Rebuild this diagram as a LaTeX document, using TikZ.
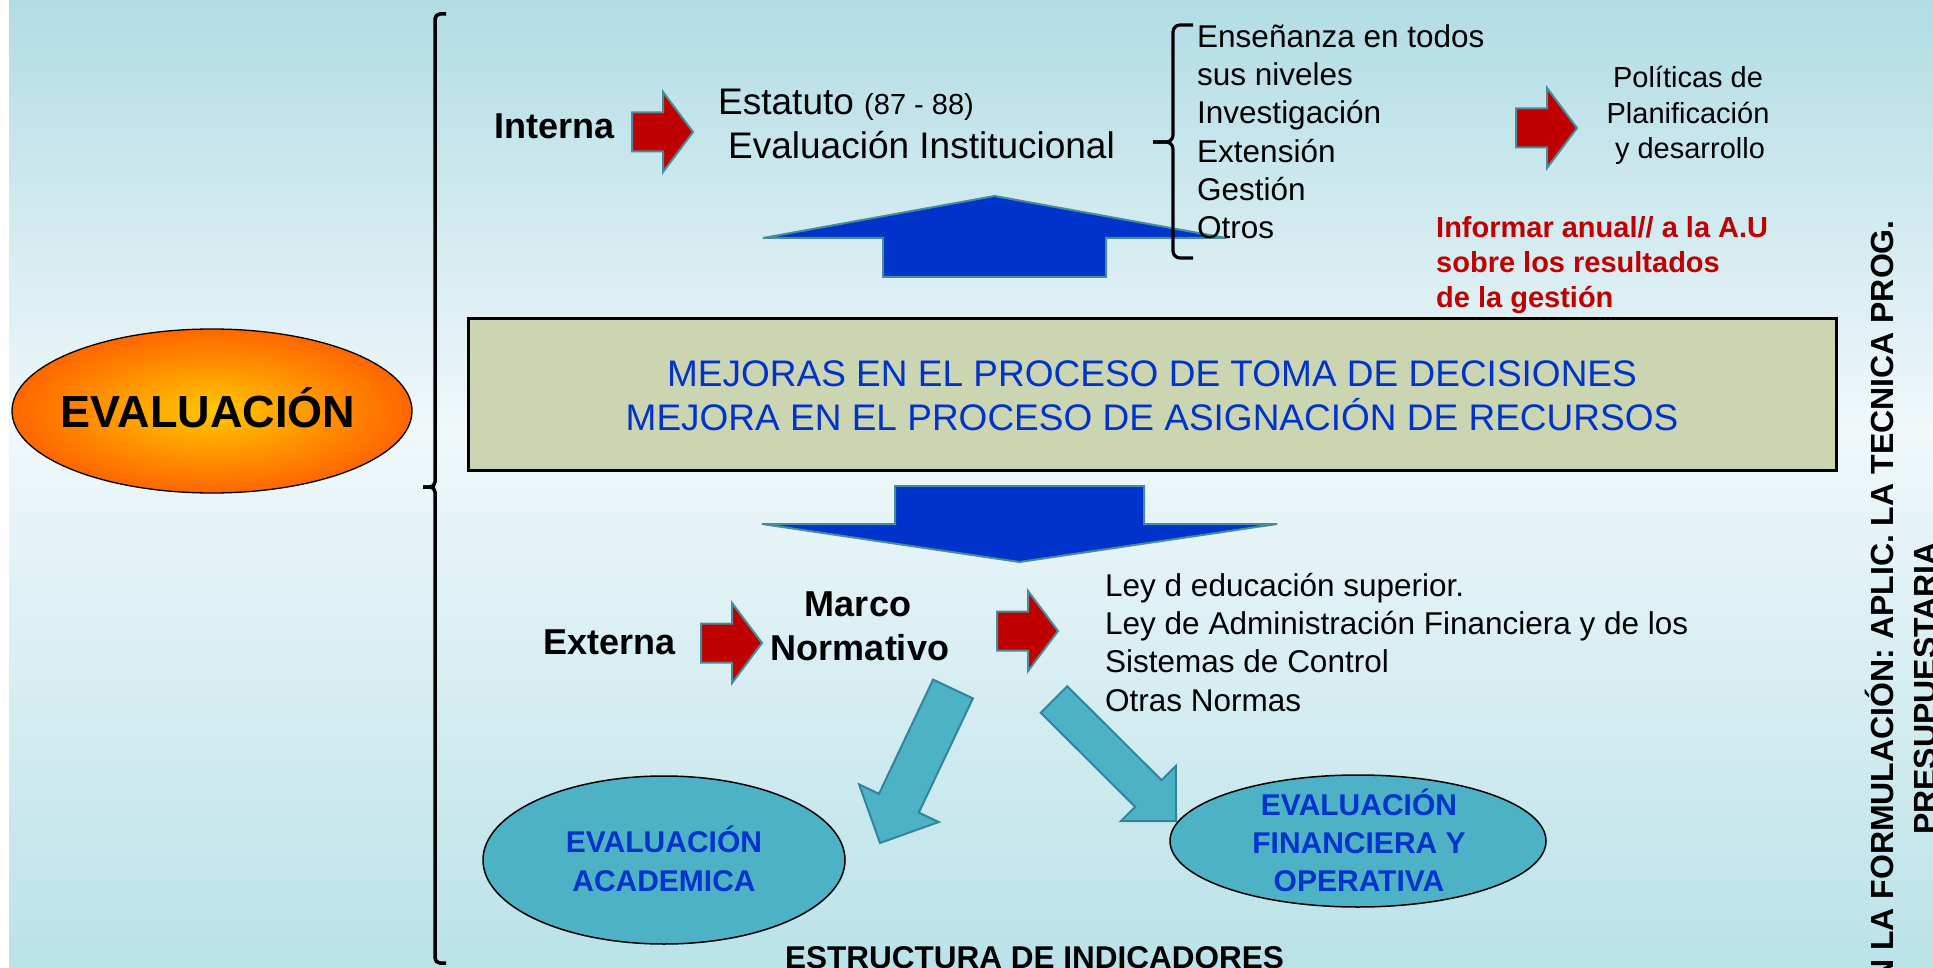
\documentclass[tikz,border=0pt]{standalone}
\usepackage{fontspec}
\setmainfont{Liberation Sans}
\definecolor{bgtop}{RGB}{178,220,229}
\definecolor{bgmid}{RGB}{240,248,250}
\definecolor{bgbot}{RGB}{186,226,233}
\definecolor{redf}{RGB}{192,0,0}
\definecolor{arrline}{RGB}{70,140,155}
\definecolor{bluef}{RGB}{0,51,204}
\definecolor{tealf}{RGB}{78,178,199}
\definecolor{tealline}{RGB}{49,133,155}
\definecolor{rectf}{RGB}{204,213,177}
\definecolor{txtblue}{RGB}{0,51,204}
\definecolor{orin}{RGB}{255,200,0}
\definecolor{orout}{RGB}{255,102,0}
\newcommand{\redarr}[2]{\draw[redarr] (#1,#2-19.5) -- ++(31,0) -- ++(0,-20.5) -- ++(30,40) -- ++(-30,40) -- ++(0,-20.5) -- ++(-31,0) -- cycle;}
\tikzset{
  redarr/.style={fill=redf, draw=arrline, line width=2pt, line join=miter},
  bluearr/.style={fill=bluef, draw=arrline, line width=2pt},
  tealarr/.style={fill=tealf, draw=tealline, line width=2pt},
  bracketline/.style={line width=3.5pt, rounded corners=5pt},
  txt/.style={inner sep=0pt, anchor=base west, font=\fontsize{31.5}{38}\selectfont},
  boldtxt/.style={inner sep=0pt, anchor=base west, font=\fontsize{36}{43}\selectfont\bfseries},
  redtxt/.style={inner sep=0pt, anchor=base west, text=redf, font=\fontsize{29}{35}\selectfont\bfseries},
  poltxt/.style={inner sep=0pt, anchor=base, font=\fontsize{29}{35}\selectfont},
  mejtxt/.style={inner sep=0pt, anchor=base, text=txtblue, font=\fontsize{37}{44}\selectfont},
  elltxt/.style={inner sep=0pt, anchor=base, text=txtblue, font=\fontsize{30}{38}\selectfont\bfseries},
  rottxt/.style={inner sep=0pt, rotate=90, font=\fontsize{32}{38}\selectfont\bfseries},
}
\begin{document}
\begin{tikzpicture}[x=1pt, y=-1pt]
\useasboundingbox (0,0) rectangle (1933,968);
\clip (0,0) rectangle (1933,968);
% background
\shade[top color=bgtop, bottom color=bgmid] (0,0) rectangle (1933,430);
\shade[top color=bgmid, bottom color=bgbot] (0,429.5) rectangle (1933,968);

% EVALUACION ellipse
\shade[inner color=orin, outer color=orout] (212,411) ellipse [x radius=200, y radius=82];
\draw[line width=1.3pt] (212,411) ellipse [x radius=200, y radius=82];
\node[inner sep=0pt, anchor=base, font=\fontsize{45}{54}\selectfont\bfseries] (evaluacion) at (208,427) {EVALUACIÓN};
\fill[white] (0,0) rectangle (9,968);

% big bracket
\draw[bracketline] (446,14) -- (435,14) -- (435,487) -- (423,487);
\draw[bracketline] (423,487) -- (435,487) -- (435,963) -- (446,963);

% central rectangle
\node[draw, line width=3pt, fill=rectf, minimum width=1368pt, minimum height=151pt, inner sep=0pt] (mejoras) at (1152,394.5) {};
\node[mejtxt] (mej1) at (1152,386) {MEJORAS EN EL PROCESO DE TOMA DE DECISIONES};
\node[mejtxt] (mej2) at (1152,430) {MEJORA EN EL PROCESO DE ASIGNACIÓN DE RECURSOS};

% blue arrows
\draw[bluearr] (994.5,196) -- (1226,238) -- (1106,238) -- (1106,277) -- (883,277) -- (883,238) -- (763,238) -- cycle;
\draw[bluearr] (895,486) -- (1144,486) -- (1144,524) -- (1277,524) -- (1019.5,562) -- (762,524) -- (895,524) -- cycle;

% curly brace
\draw[bracketline, line width=3.2pt, rounded corners=7pt] (1193,25) -- (1173,25) -- (1173,142) -- (1153,142);
\draw[bracketline, line width=3.2pt, rounded corners=7pt] (1153,142) -- (1173,142) -- (1173,258) -- (1193,258);

% top row
\node[boldtxt] (interna) at (494,139) {Interna};
\redarr{632}{132}
\node[inner sep=0pt, anchor=base west, font=\fontsize{37}{44}\selectfont] (estatuto) at (718,115) {Estatuto {\fontsize{29}{35}\selectfont(87 - 88)}};
\node[inner sep=0pt, anchor=base west, font=\fontsize{37}{44}\selectfont] (evinst) at (728,159) {Evaluación Institucional};

\node[txt] (l1) at (1197,48) {Enseñanza en todos};
\node[txt] (l2) at (1197,86) {sus niveles};
\node[txt] (l3) at (1197,124) {Investigación};
\node[txt] (l4) at (1197,163) {Extensión};
\node[txt] (l5) at (1197,201) {Gestión};
\node[txt] (l6) at (1197,239) {Otros};

\redarr{1516}{128}
\node[poltxt] (p1) at (1688,88) {Políticas de};
\node[poltxt] (p2) at (1688,124) {Planificación};
\node[poltxt] (p3) at (1690,159) {y desarrollo};

\node[redtxt] (r1) at (1436,238) {Informar anual// a la A.U};
\node[redtxt] (r2) at (1436,273) {sobre los resultados};
\node[redtxt] (r3) at (1436,308) {de la gestión};

% rotated text
\node[rottxt, anchor=base east] (rot1) at (1893,220) {N LA FORMULACIÓN: APLIC. LA TECNICA PROG.};
\node[rottxt, anchor=base west] (rot2) at (1936,835) {PRESUPUESTARIA};

% bottom row
\node[boldtxt] (externa) at (543,654) {Externa};
\redarr{701}{643}
\node[boldtxt, anchor=base] (marco) at (858,616) {Marco};
\node[boldtxt, anchor=base] (normativo) at (860,660) {Normativo};
\redarr{997}{631}
\node[txt] (ley1) at (1105,596) {Ley d educación superior.};
\node[txt] (ley2) at (1105,634) {Ley de Administración Financiera y de los};
\node[txt] (ley3) at (1105,672) {Sistemas de Control};
\node[txt] (ley4) at (1105,711) {Otras Normas};

% teal arrows
\draw[tealarr] (933.1,679.6) -- (879.0,793.8) -- (859.1,784.4) -- (880,843) -- (938.7,822.0) -- (918.8,812.6) -- (972.9,698.4) -- cycle;
\draw[tealarr] (1067.2,686.2) -- (1161.6,780.2) -- (1175.9,765.9) -- (1176,821) -- (1120.9,821.1) -- (1135.2,806.8) -- (1040.8,712.8) -- cycle;

% bottom ellipses
\draw[fill=tealf, line width=1.5pt] (664,860) ellipse [x radius=181, y radius=84];
\node[elltxt] (ea1) at (664,852) {EVALUACIÓN};
\node[elltxt] (ea2) at (664,891) {ACADEMICA};
\draw[fill=tealf, line width=1.5pt] (1358,841) ellipse [x radius=188, y radius=66];
\node[elltxt] (ef1) at (1359,815) {EVALUACIÓN};
\node[elltxt] (ef2) at (1359,853) {FINANCIERA Y};
\node[elltxt] (ef3) at (1359,891) {OPERATIVA};

\node[inner sep=0pt, anchor=base west, font=\fontsize{31.5}{38}\selectfont\bfseries] (estructura) at (785,968) {ESTRUCTURA DE INDICADORES};
\end{tikzpicture}
\end{document}
